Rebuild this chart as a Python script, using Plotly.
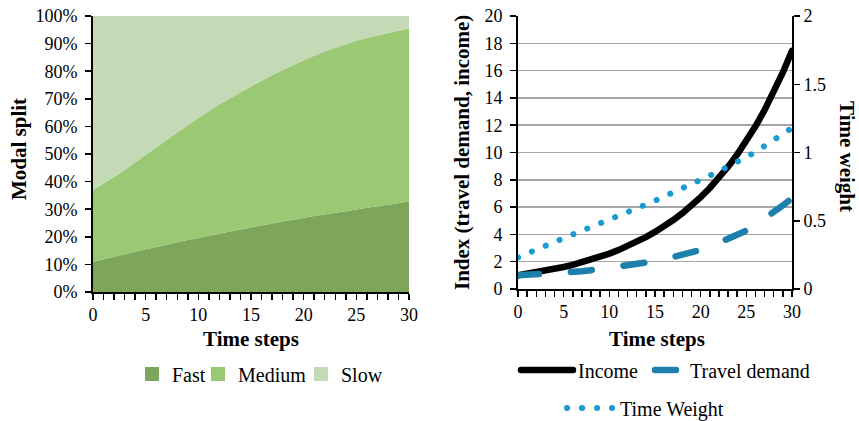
import plotly.graph_objects as go

# ---------------- data ----------------
steps = list(range(31))

fast = [11.0, 11.9, 12.8, 13.7, 14.6, 15.5, 16.3, 17.1, 18.0, 18.8, 19.6,
        20.4, 21.1, 21.9, 22.6, 23.4, 24.1, 24.8, 25.5, 26.2, 26.9,
        27.5, 28.1, 28.7, 29.3, 29.9, 30.5, 31.1, 31.6, 32.2, 32.8]
medium = [26.0, 27.4, 28.9, 30.5, 32.3, 34.2, 36.1, 38.0, 39.8, 41.6, 43.4,
          45.1, 46.8, 48.3, 49.8, 51.1, 52.4, 53.7, 54.9, 56.0, 57.1,
          58.1, 59.0, 59.8, 60.5, 61.1, 61.5, 61.8, 62.2, 62.5, 62.7]
slow = [63.0, 60.7, 58.3, 55.8, 53.1, 50.3, 47.6, 44.9, 42.2, 39.6, 37.0,
        34.5, 32.1, 29.8, 27.6, 25.5, 23.5, 21.5, 19.6, 17.8, 16.0,
        14.4, 12.9, 11.5, 10.2, 9.0, 8.0, 7.1, 6.2, 5.3, 4.5]

income = [1.00, 1.10, 1.21, 1.33, 1.46, 1.61, 1.77, 1.95, 2.14, 2.36, 2.59,
          2.85, 3.14, 3.45, 3.80, 4.18, 4.59, 5.05, 5.56, 6.12, 6.73,
          7.40, 8.14, 8.95, 9.85, 10.83, 11.92, 13.11, 14.42, 15.86, 17.45]
travel_demand = [1.00, 1.03, 1.07, 1.11, 1.15, 1.19, 1.24, 1.30, 1.38, 1.46, 1.54,
                 1.62, 1.71, 1.81, 1.91, 2.03, 2.17, 2.33, 2.50, 2.67, 2.87,
                 3.10, 3.38, 3.70, 3.98, 4.28, 4.70, 5.15, 5.62, 6.12, 6.65]
time_weight = [0.232, 0.262, 0.290, 0.316, 0.344, 0.372, 0.400, 0.427, 0.453, 0.480, 0.508,
               0.536, 0.563, 0.591, 0.619, 0.647, 0.676, 0.706, 0.738, 0.769, 0.800,
               0.831, 0.862, 0.894, 0.930, 0.967, 1.004, 1.045, 1.090, 1.135, 1.180]

x_ticks = [0, 5, 10, 15, 20, 25, 30]
share_ticks = [0, 10, 20, 30, 40, 50, 60, 70, 80, 90, 100]
share_tick_labels = ["0%", "10%", "20%", "30%", "40%", "50%", "60%", "70%", "80%", "90%", "100%"]
index_ticks = [0, 2, 4, 6, 8, 10, 12, 14, 16, 18, 20]
weight_ticks = [0, 0.5, 1, 1.5, 2]
weight_tick_labels = ["0", "0.5", "1", "1.5", "2"]

# ---------------- style ----------------
W, H = 859, 421
FONT = "Liberation Serif, Times New Roman, Times, serif"
C_FAST, C_MED, C_SLOW = "#7ea65b", "#9bc873", "#c4dab6"
C_INC, C_TD, C_TW = "#000000", "#1d7fab", "#1a9bd3"


def px(x):
    return x / W


def py(y):
    return 1 - y / H


fig = go.Figure()

# stacked area (left)
for name, vals, col in [("Fast", fast, C_FAST), ("Medium", medium, C_MED), ("Slow", slow, C_SLOW)]:
    fig.add_trace(go.Scatter(x=steps, y=vals, name=name, stackgroup="split", mode="none",
                             fillcolor=col, xaxis="x", yaxis="y", showlegend=False,
                             hoverinfo="skip"))

# legend entries for the area chart
for i, (name, col) in enumerate([("Fast", C_FAST), ("Medium", C_MED), ("Slow", C_SLOW)]):
    fig.add_trace(go.Scatter(x=[None], y=[None], name=name, mode="markers",
                             marker=dict(symbol="square", size=14, color=col),
                             xaxis="x", yaxis="y", showlegend=True,
                             legend=["legend", "legend2", "legend3"][i]))

# right chart lines
fig.add_trace(go.Scatter(x=steps, y=income, name="Income", mode="lines",
                         line=dict(color=C_INC, width=6.5), xaxis="x2", yaxis="y3",
                         legend="legend4"))
fig.add_trace(go.Scatter(x=steps, y=travel_demand, name="Travel demand", mode="lines",
                         line=dict(color=C_TD, width=6.5, dash="21px,32px"),
                         xaxis="x2", yaxis="y3", legend="legend5"))
fig.add_trace(go.Scatter(x=steps, y=time_weight, name="Time Weight", mode="lines",
                         line=dict(color=C_TW, width=6, dash="0.1px,14.9px"),
                         xaxis="x2", yaxis="y4", legend="legend6"))

tickfont = dict(family=FONT, size=18, color="black")
axline = dict(showline=True, linecolor="black", linewidth=1.8)

xcommon = dict(range=[0, 30], tickvals=x_ticks, ticks="outside", ticklen=6, tickwidth=1.5,
               tickcolor="black", tickfont=tickfont, showgrid=False, zeroline=False,
               minor=dict(dtick=1, ticks="outside", ticklen=6, tickwidth=1.5, tickcolor="black"),
               fixedrange=True, **axline)

legfont = dict(family=FONT, size=20, color="black")


def leg(x, y, iw=30):
    return dict(x=px(x), y=py(y), xanchor="left", yanchor="middle", orientation="h",
                bgcolor="rgba(0,0,0,0)", borderwidth=0, font=legfont, itemwidth=iw,
                itemclick=False, itemdoubleclick=False)


ann_font = dict(family=FONT, size=21, color="black")
annotations = [
    dict(text="<b>Modal split</b>", x=px(19), y=py(149), textangle=-90),
    dict(text="<b>Time steps</b>", x=px(251), y=py(339), textangle=0),
    dict(text="<b>Index (travel demand, income)</b>", x=px(462), y=py(153), textangle=-90),
    dict(text="<b>Time steps</b>", x=px(657), y=py(339), textangle=0),
    dict(text="<b>Time weight</b>", x=px(847), y=py(156), textangle=90),
]
for a in annotations:
    a.update(xref="paper", yref="paper", showarrow=False, xanchor="center", yanchor="middle",
             font=ann_font)

fig.update_layout(
    width=W, height=H,
    margin=dict(l=0, r=0, t=0, b=0, autoexpand=False),
    paper_bgcolor="white", plot_bgcolor="rgba(0,0,0,0)",
    font=dict(family=FONT, color="black"),
    hovermode=False,
    xaxis=dict(domain=[px(93), px(409)], anchor="y", **xcommon),
    yaxis=dict(domain=[py(292), py(16)], anchor="x", range=[0, 100], tickvals=share_ticks,
               ticktext=share_tick_labels, ticks="outside", ticklen=6, tickwidth=1.5,
               tickcolor="black", tickfont=tickfont, showgrid=False, zeroline=False,
               ticklabelstandoff=4, fixedrange=True, **axline),
    xaxis2=dict(domain=[px(518), px(792)], anchor="y3", **xcommon),
    yaxis3=dict(domain=[py(289), py(16)], anchor="x2", range=[0, 20], tickvals=index_ticks,
                ticks="outside", ticklen=6, tickwidth=1.5, tickcolor="black", tickfont=tickfont,
                showgrid=True, gridcolor="#a6a6a6", gridwidth=1.5, zeroline=False,
                ticklabelstandoff=4, fixedrange=True, **axline),
    yaxis4=dict(overlaying="y3", side="right", anchor="x2", range=[0, 2], tickvals=weight_ticks,
                ticktext=weight_tick_labels, ticks="outside", ticklen=6, tickwidth=1.5,
                tickcolor="black", tickfont=tickfont, showgrid=False, zeroline=False,
                fixedrange=True, **axline),
    yaxis5=dict(overlaying="y3", side="right", anchor="x2", range=[0, 2], tickvals=weight_ticks,
                ticks="inside", ticklen=6, tickwidth=1.5, tickcolor="black",
                showticklabels=False, showgrid=False, zeroline=False, showline=False,
                fixedrange=True),
    legend=leg(132, 374),
    legend2=leg(198, 374),
    legend3=leg(301, 374),
    legend4=leg(516, 370, 52),
    legend5=leg(650, 370, 30),
    legend6=leg(562, 408, 48),
    annotations=annotations,
    showlegend=True,
)

post = ("document.querySelectorAll('path.js-line').forEach(function(p){"
        "p.style.strokeLinecap='round';});")
fig.write_html("out.html", post_script=post, config={"displayModeBar": False, "staticPlot": True})
